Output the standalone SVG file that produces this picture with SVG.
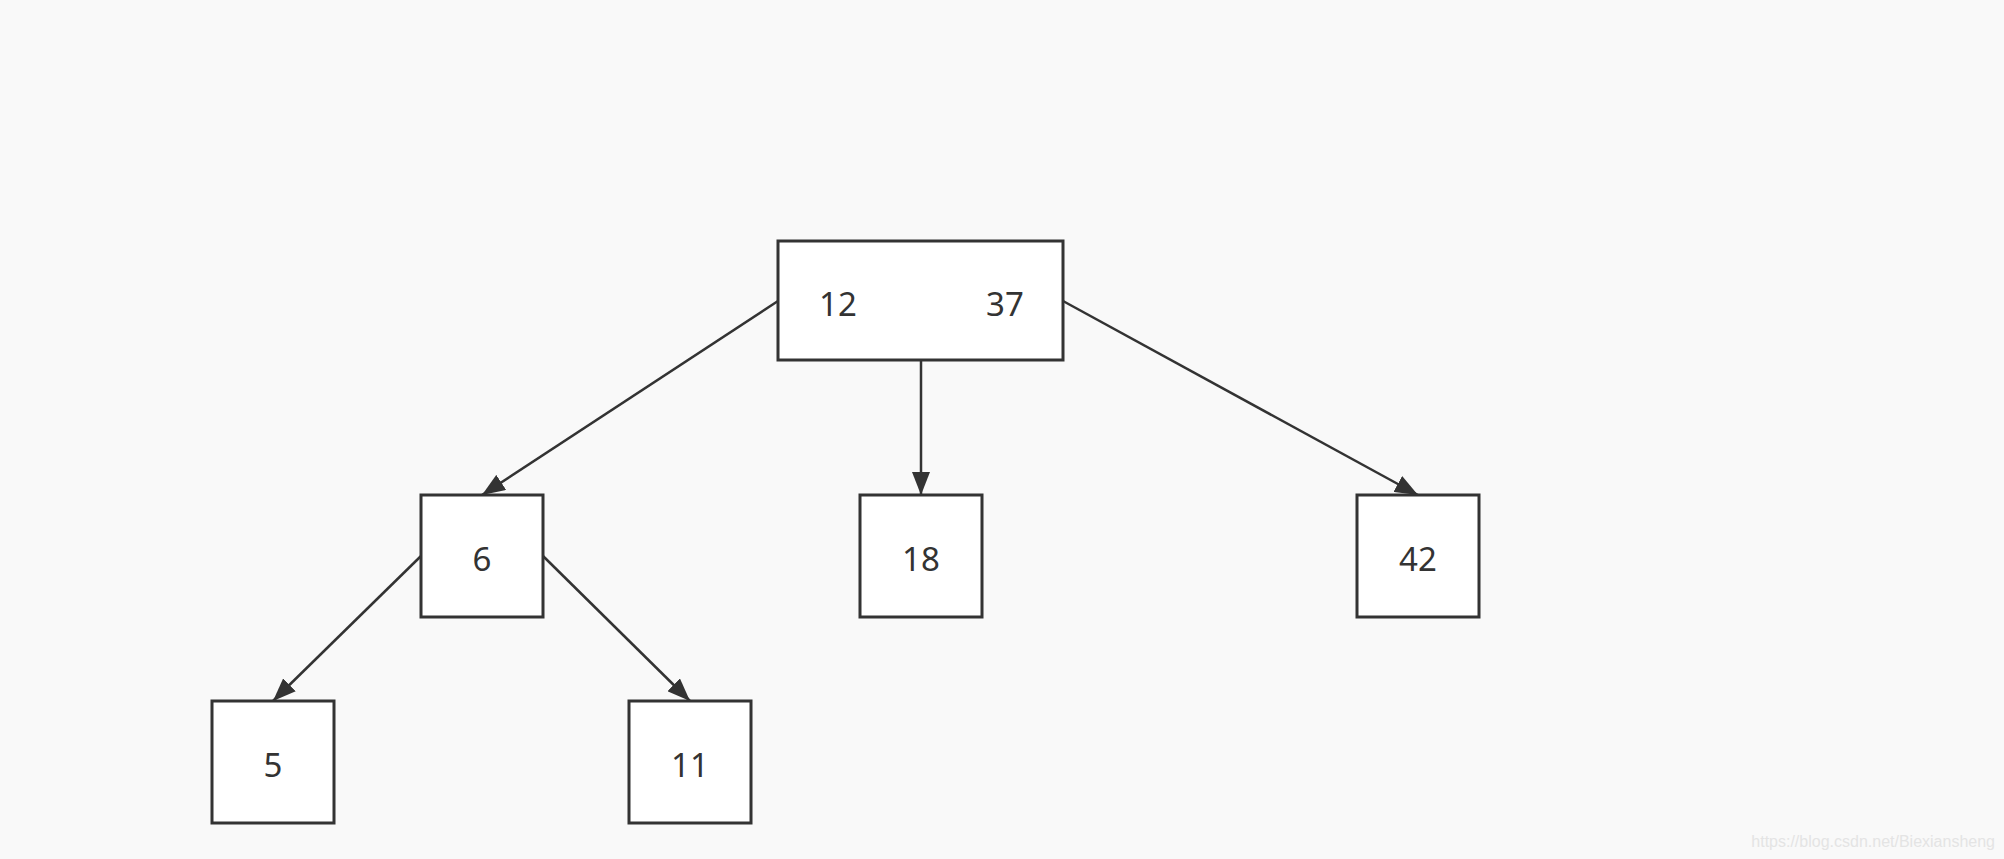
<svg xmlns="http://www.w3.org/2000/svg" width="2004" height="859" viewBox="0 0 2004 859">
  <style>
    .box { fill: #ffffff; stroke: #333333; stroke-width: 3; }
    .lbl { font-family: "Noto Sans", "Open Sans", sans-serif; font-size: 33px; fill: #333333; text-anchor: middle; }
    .edge { stroke: #333333; stroke-width: 2.5; fill: none; marker-end: url(#arrow); }
    .wm { font-family: "Liberation Sans", Arial, sans-serif; font-size: 16px; fill: #e4e4e4; text-anchor: end; }
  </style>
  <defs>
    <marker id="arrow" markerUnits="userSpaceOnUse" markerWidth="24" markerHeight="18" refX="23" refY="9" orient="auto">
      <path d="M0,0 L23,9 L0,18 z" fill="#333333"/>
    </marker>
  </defs>
  <rect x="0" y="0" width="2004" height="859" fill="#f9f9f9"/>

  <g id="connectors">
    <line class="edge" x1="778" y1="301" x2="482" y2="495"/>
    <line class="edge" x1="921" y1="360" x2="921" y2="495"/>
    <line class="edge" x1="1063" y1="301" x2="1418" y2="495"/>
    <line class="edge" x1="421" y1="556" x2="273" y2="701"/>
    <line class="edge" x1="543" y1="556" x2="690" y2="701"/>
  </g>

  <g id="node-root">
    <rect class="box" x="778" y="241" width="285" height="119"/>
    <text class="lbl" x="838" y="316">12</text>
    <text class="lbl" x="1005" y="316">37</text>
  </g>
  <g id="node-6">
    <rect class="box" x="421" y="495" width="122" height="122"/>
    <text class="lbl" x="482" y="571">6</text>
  </g>
  <g id="node-18">
    <rect class="box" x="860" y="495" width="122" height="122"/>
    <text class="lbl" x="921" y="571">18</text>
  </g>
  <g id="node-42">
    <rect class="box" x="1357" y="495" width="122" height="122"/>
    <text class="lbl" x="1418" y="571">42</text>
  </g>
  <g id="node-5">
    <rect class="box" x="212" y="701" width="122" height="122"/>
    <text class="lbl" x="273" y="777">5</text>
  </g>
  <g id="node-11">
    <rect class="box" x="629" y="701" width="122" height="122"/>
    <text class="lbl" x="690" y="777">11</text>
  </g>

  <text class="wm" x="1995" y="847">https://blog.csdn.net/Biexiansheng</text>
</svg>
